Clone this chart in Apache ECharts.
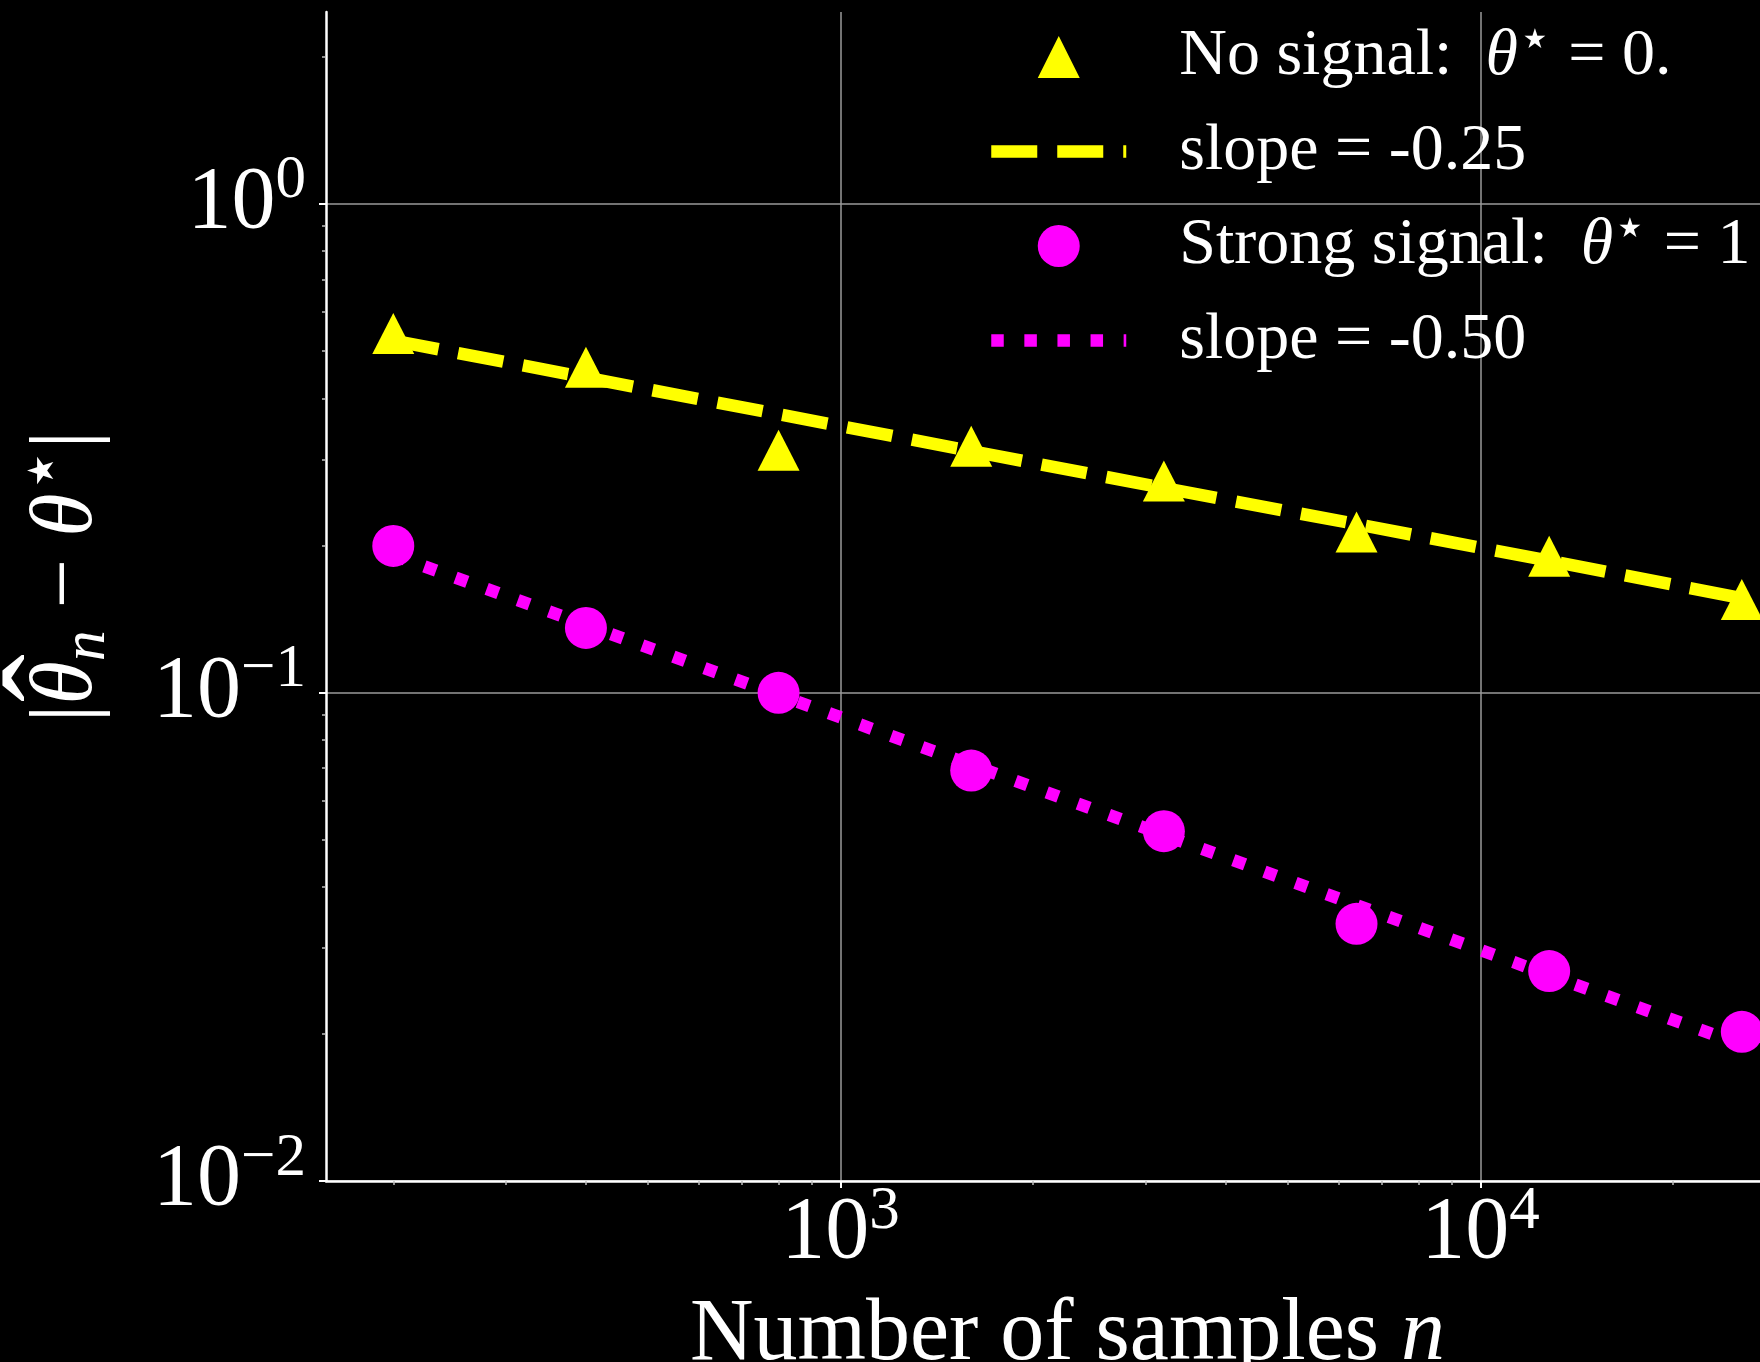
<!DOCTYPE html>
<html>
<head>
<meta charset="utf-8">
<script src="https://cdn.jsdelivr.net/npm/echarts@6/dist/echarts.min.js"></script>
<style>
  html, body { margin: 0; padding: 0; background: #000; }
  #chart { width: 1760px; height: 1362px; }
</style>
</head>
<body>
<div id="chart"></div>
<script>
// Sample sizes n (log-spaced, doubling)
const sampleSizes = [200, 400, 800, 1600, 3200, 6400, 12800, 25600];

// |theta_hat_n - theta*| for the two settings
const errNoSignal     = [0.543, 0.463, 0.313, 0.319, 0.271, 0.213, 0.190, 0.155];
const errStrongSignal = [0.1995, 0.1355, 0.0998, 0.0692, 0.0520, 0.0336, 0.0269, 0.0202];

// Reference power-law lines drawn through each cloud
const fitNoSignal     = [0.525, 0.441, 0.371, 0.312, 0.262, 0.221, 0.186, 0.156];
const fitStrongSignal = [0.191, 0.1375, 0.0988, 0.0711, 0.0511, 0.0367, 0.0264, 0.0190];

// Legend entries
const legendNames = ['No signal', 'slope = -0.25', 'Strong signal', 'slope = -0.50'];

// Axis ticks
const xMajorTicks = [1000, 10000];
const xMinorTicks = [200, 300, 400, 500, 600, 700, 800, 900,
                     2000, 3000, 4000, 5000, 6000, 7000, 8000, 9000, 20000, 30000];
const yMajorTicks = [0.01, 0.1, 1];
const yMinorTicks = [0.02, 0.03, 0.04, 0.05, 0.06, 0.07, 0.08, 0.09,
                     0.2, 0.3, 0.4, 0.5, 0.6, 0.7, 0.8, 0.9, 2];

const X_MIN = 157, X_MAX = 32600;
const Y_MIN = 0.01, Y_MAX = 2.47;

const SERIF = '"Liberation Serif", "DejaVu Serif", serif';
const FG = '#ffffff';
const YELLOW = '#ffff00';
const MAGENTA = '#ff00ff';

// Triangle outline used for the legend marker (kept square)
const TRIANGLE_ICON = 'path://M0,-1L1,1L-1,1Z';

function pairs(xs, ys) { return xs.map((x, i) => [x, ys[i]]); }

// "10^k" label as rich text with a raised exponent
function powerLabel(v) {
  const e = Math.round(Math.log10(v));
  const exp = e < 0 ? '\u2212' + (-e) : String(e);
  return '{b|10}{s|' + exp + '}';
}

const tickRich = {
  b: { fontFamily: SERIF, fontSize: 88, color: FG, lineHeight: 90 },
  s: { fontFamily: SERIF, fontSize: 61, color: FG, lineHeight: 50, padding: [0, 0, 45, 0] }
};

const legendRich = {
  i: { fontFamily: SERIF, fontSize: 66, fontStyle: 'italic', color: FG, lineHeight: 70 },
  sup: { fontFamily: SERIF, fontSize: 54, color: FG, lineHeight: 40, padding: [0, 0, 30, 0] }
};

function legendText(name) {
  if (name === 'No signal') return 'No signal:  {i|\u03b8}{sup|\u22c6} = 0.';
  if (name === 'Strong signal') return 'Strong signal:  {i|\u03b8}{sup|\u22c6} = 1';
  return name;
}

const majorTickStyle = { color: FG, width: 2 };
const minorTickStyle = { color: '#bdbdbd', width: 1.5 };
const gridLineStyle = { color: '#9a9a9a', width: 1.5 };

const chart = echarts.init(document.getElementById('chart'), null, { renderer: 'canvas' });

chart.setOption({
  animation: false,
  backgroundColor: '#000000',
  grid: { left: 326, top: 12, width: 1483, height: 1169, outerBoundsMode: 'none', containLabel: false },
  legend: {
    orient: 'vertical',
    left: 985,
    top: 15,
    padding: 0,
    itemWidth: 135,
    itemHeight: 42,
    itemGap: 17.5,
    symbolKeepAspect: true,
    selectedMode: false,
    data: [
      { name: legendNames[0], icon: TRIANGLE_ICON, itemStyle: { opacity: 1 } },
      { name: legendNames[1], itemStyle: { color: 'rgba(0,0,0,0)', opacity: 0 }, lineStyle: { width: 12.5 } },
      { name: legendNames[2], icon: 'circle', itemStyle: { opacity: 1 } },
      { name: legendNames[3], itemStyle: { color: 'rgba(0,0,0,0)', opacity: 0 }, lineStyle: { width: 12.5 } }
    ],
    formatter: legendText,
    textStyle: {
      fontFamily: SERIF, fontSize: 66, color: FG, lineHeight: 70,
      padding: [0, 0, 0, 48],
      rich: legendRich
    }
  },
  xAxis: [
    {
      type: 'log', logBase: 10, min: X_MIN, max: X_MAX, position: 'bottom',
      axisLine: { show: true, onZero: false, lineStyle: { color: FG, width: 2.5 } },
      axisTick: { show: true, customValues: xMajorTicks, length: 7, lineStyle: majorTickStyle },
      axisLabel: { show: true, customValues: xMajorTicks, formatter: powerLabel, rich: tickRich, margin: 8 },
      splitLine: { show: true, lineStyle: gridLineStyle },
      minorTick: { show: false },
      name: '{t|Number of samples }{ti|n}',
      nameLocation: 'middle',
      nameGap: 95,
      nameTextStyle: {
        rich: {
          t: { fontFamily: SERIF, fontSize: 88, color: FG },
          ti: { fontFamily: SERIF, fontSize: 88, fontStyle: 'italic', color: FG }
        }
      }
    },
    {
      type: 'log', logBase: 10, min: X_MIN, max: X_MAX, position: 'bottom',
      axisLine: { show: false },
      axisTick: { show: true, customValues: xMinorTicks, length: 4, lineStyle: minorTickStyle },
      axisLabel: { show: false },
      splitLine: { show: false }
    }
  ],
  yAxis: [
    {
      type: 'log', logBase: 10, min: Y_MIN, max: Y_MAX, position: 'left',
      axisLine: { show: true, onZero: false, lineStyle: { color: FG, width: 2.5 } },
      axisTick: { show: true, customValues: yMajorTicks, length: 7, lineStyle: majorTickStyle },
      axisLabel: { show: true, customValues: yMajorTicks, formatter: powerLabel, rich: tickRich, margin: 20 },
      splitLine: { show: true, lineStyle: gridLineStyle },
      minorTick: { show: false },
      name: '{r||}{i|\u03b8}{sub|n}{r| \u2212 }{i|\u03b8}{sup|\u22c6}{r||}',
      nameLocation: 'middle',
      nameRotate: 90,
      nameGap: 200,
      nameTextStyle: {
        padding: [0, 0, 0, 40],
        rich: {
          r: { fontFamily: SERIF, fontSize: 88, color: FG },
          i: { fontFamily: SERIF, fontSize: 88, fontStyle: 'italic', color: FG },
          sub: { fontFamily: SERIF, fontSize: 62, fontStyle: 'italic', color: FG, padding: [40, 0, 0, 0] },
          sup: { fontFamily: SERIF, fontSize: 72, color: FG, padding: [0, 0, 45, 0] }
        }
      }
    },
    {
      // minor ticks; its name carries the wide hat over the estimator
      type: 'log', logBase: 10, min: Y_MIN, max: Y_MAX, position: 'left',
      axisLine: { show: false },
      axisTick: { show: true, customValues: yMinorTicks, length: 4, lineStyle: minorTickStyle },
      axisLabel: { show: false },
      splitLine: { show: false },
      name: '\u02c6',
      nameLocation: 'middle',
      nameRotate: 90,
      nameGap: 241,
      nameTextStyle: {
        fontFamily: SERIF, fontSize: 145, color: FG, lineHeight: 40,
        padding: [0, 163, 0, 0]
      }
    }
  ],
  series: [
    {
      name: legendNames[0], type: 'scatter', xAxisIndex: 0, yAxisIndex: 0,
      symbol: 'triangle', symbolSize: [42, 41],
      itemStyle: { color: YELLOW, opacity: 1 },
      data: pairs(sampleSizes, errNoSignal)
    },
    {
      name: legendNames[1], type: 'line', xAxisIndex: 0, yAxisIndex: 0,
      symbol: 'none', showSymbol: false,
      lineStyle: { color: YELLOW, width: 12.5, type: [46, 20], cap: 'butt' },
      itemStyle: { color: YELLOW },
      data: pairs(sampleSizes, fitNoSignal)
    },
    {
      name: legendNames[2], type: 'scatter', xAxisIndex: 0, yAxisIndex: 0,
      symbol: 'circle', symbolSize: 42,
      itemStyle: { color: MAGENTA, opacity: 1 },
      data: pairs(sampleSizes, errStrongSignal)
    },
    {
      name: legendNames[3], type: 'line', xAxisIndex: 0, yAxisIndex: 0,
      symbol: 'none', showSymbol: false,
      lineStyle: { color: MAGENTA, width: 12.5, type: [12.5, 20.6], cap: 'butt' },
      itemStyle: { color: MAGENTA },
      data: pairs(sampleSizes, fitStrongSignal)
    }
  ]
});
</script>
</body>
</html>
